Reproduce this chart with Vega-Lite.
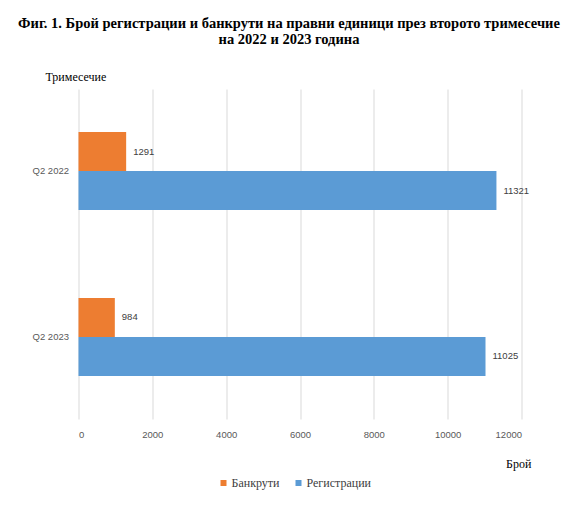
{
  "$schema": "https://vega.github.io/schema/vega-lite/v6.json",
  "autosize": {"type": "none"},
  "padding": {"left": 78.5, "top": 89, "right": 59.5, "bottom": 86},
  "width": 443,
  "height": 330,
  "background": "white",
  "title": {
    "text": ["Фиг. 1. Брой регистрации и банкрути на правни единици през  второто тримесечие", "на 2022 и 2023 година"],
    "font": "Liberation Serif",
    "fontSize": 14.5,
    "fontWeight": "bold",
    "color": "black",
    "anchor": "middle",
    "dx": -11,
    "offset": 23,
    "lineHeight": 16
  },
  "data": {
    "values": [
      {"quarter": "Q2 2022", "series": "Банкрути", "count": 1291},
      {"quarter": "Q2 2022", "series": "Регистрации", "count": 11321},
      {"quarter": "Q2 2023", "series": "Банкрути", "count": 984},
      {"quarter": "Q2 2023", "series": "Регистрации", "count": 11025}
    ]
  },
  "encoding": {
    "y": {
      "field": "quarter",
      "type": "nominal",
      "sort": ["Q2 2022", "Q2 2023"],
      "scale": {"paddingInner": 0.53, "paddingOuter": 0.26},
      "axis": {
        "title": "Тримесечие",
        "titleAngle": 0,
        "titleAlign": "left",
        "titleBaseline": "alphabetic",
        "titleX": -33.5,
        "titleY": -9,
        "domain": false,
        "ticks": false,
        "grid": false,
        "labelPadding": 10
      }
    },
    "yOffset": {
      "field": "series",
      "type": "nominal",
      "sort": ["Банкрути", "Регистрации"],
      "scale": {"paddingInner": 0, "paddingOuter": 0}
    },
    "x": {
      "field": "count",
      "type": "quantitative",
      "scale": {"domain": [0, 12000], "nice": false},
      "axis": {
        "values": [0, 2000, 4000, 6000, 8000, 10000, 12000],
        "format": "d",
        "title": "Брой",
        "titleAlign": "left",
        "titleBaseline": "alphabetic",
        "titleX": 427,
        "titleY": 48,
        "domain": false,
        "ticks": false,
        "grid": true,
        "gridColor": "#D9D9D9",
        "gridWidth": 1,
        "labelPadding": 10
      }
    }
  },
  "layer": [
    {
      "mark": {"type": "bar"},
      "encoding": {
        "color": {
          "field": "series",
          "type": "nominal",
          "scale": {"domain": ["Банкрути", "Регистрации"], "range": ["#ED7D31", "#5B9BD5"]},
          "legend": {
            "title": null,
            "orient": "none",
            "direction": "horizontal",
            "legendX": 139,
            "legendY": 388
          }
        }
      }
    },
    {
      "mark": {
        "type": "text",
        "align": "left",
        "baseline": "middle",
        "dx": 7,
        "font": "Liberation Sans",
        "fontSize": 9.5,
        "color": "#404040"
      },
      "encoding": {
        "text": {"field": "count", "type": "quantitative", "format": "d"}
      }
    }
  ],
  "config": {
    "view": {"stroke": null},
    "axis": {
      "titleFont": "Liberation Serif",
      "titleFontSize": 12,
      "titleFontWeight": "normal",
      "titleColor": "black",
      "labelFont": "Liberation Sans",
      "labelFontSize": 9.5,
      "labelColor": "#595959"
    },
    "legend": {
      "symbolType": "square",
      "symbolSize": 36,
      "symbolStrokeWidth": 0,
      "labelFont": "Liberation Serif",
      "labelFontSize": 12,
      "labelColor": "#404040",
      "labelOffset": 2,
      "columnPadding": 13
    }
  }
}
